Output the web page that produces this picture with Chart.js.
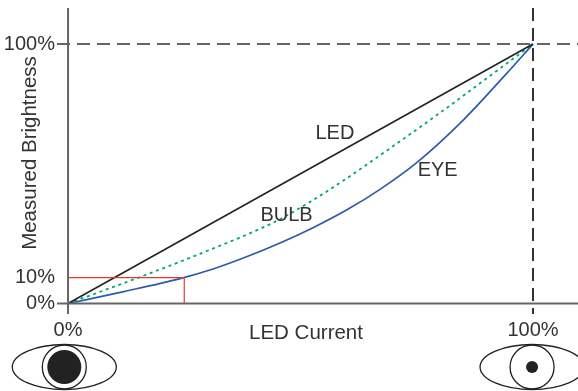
<!DOCTYPE html>
<html>
<head>
<meta charset="utf-8">
<title>LED dimming curves</title>
<script src="https://cdn.jsdelivr.net/npm/chart.js@4"></script>
<style>
    html, body { margin: 0; padding: 0; background: #fff; overflow: hidden; }
    canvas { display: block; }
</style>
</head>
<body>
<canvas id="dimmingChart" width="578" height="391"></canvas>
<script>
// Curves (percent of current, percent of brightness)
const ledX = [0, 100];
const ledY = [0, 100];
const bulbX = [0, 15.5, 24.1, 31.2, 38.4, 45.6, 52.8, 59.9, 68.2, 80, 90.8, 100];
const bulbY = [0, 10.2, 16.1, 21.2, 26.5, 32.5, 40, 48.2, 58.5, 73.5, 87.8, 100];
const eyeX = [0, 12, 24.1, 31.2, 38.4, 45.6, 52.8, 59.9, 67.1, 75, 85, 94, 100];
const eyeY = [0, 4.6, 9.6, 13.3, 18, 23.3, 29.3, 36, 44, 54.3, 70.7, 88, 100];
const markerX = [0, 25, 25];
const markerY = [10, 10, 0];

const xTicks = [0, 100];
const yTicks = [0, 10, 100];
const curveNames = ['LED', 'EYE', 'BULB'];
const curveNameX = [57.4, 79.5, 47];
const curveNameY = [65.7, 51.4, 34.1];
const eyeCentres = [-0.8, 99.8];

const FONT = '"Liberation Sans", Arial, sans-serif';
const TEXT = '#333333';

// Axis ends sit a little outside the 0-100 range
const xMin = -2.37, xMax = 109.68, yMin = -4.05, yMax = 113.9;

function points(xs, ys) {
    return xs.map((x, i) => ({ x: x, y: ys[i] }));
}

// Curve names, axis titles and the two eyes under the x axis
const annotations = {
    id: 'annotations',
    afterDatasetsDraw(chart) {
        const { ctx, scales } = chart;
        ctx.save();
        ctx.fillStyle = TEXT;
        ctx.textAlign = 'center';
        ctx.textBaseline = 'middle';
        ctx.font = '20px ' + FONT;
        curveNames.forEach((name, i) => {
            ctx.fillText(name, scales.x.getPixelForValue(curveNameX[i]), scales.y.getPixelForValue(curveNameY[i]));
        });

        ctx.font = '20.5px ' + FONT;
        ctx.fillText('LED Current', 306, 333);
        ctx.save();
        ctx.translate(30, 153);
        ctx.rotate(-Math.PI / 2);
        ctx.fillText('Measured Brightness', 0, 0);
        ctx.restore();

        eyeCentres.forEach((value, i) => {
            const cx = scales.x.getPixelForValue(value);
            const cy = 367;
            ctx.strokeStyle = '#222222';
            ctx.lineWidth = 1.3;
            ctx.beginPath();
            ctx.ellipse(cx, cy, 52, 22.5, 0, 0, Math.PI * 2);
            ctx.stroke();
            ctx.beginPath();
            ctx.arc(cx, cy, 22, 0, Math.PI * 2);
            ctx.stroke();
            ctx.fillStyle = '#222222';
            ctx.beginPath();
            ctx.arc(cx, cy, i === 0 ? 17 : 6, 0, Math.PI * 2);
            ctx.fill();
        });
        ctx.restore();
    }
};

new Chart(document.getElementById('dimmingChart'), {
    type: 'scatter',
    plugins: [annotations],
    data: {
        datasets: [
            { label: 'Y axis', data: points([0, 0], [yMin, yMax]), borderColor: '#666666', borderWidth: 2 },
            { label: 'X axis', data: points([xMin, xMax], [0, 0]), borderColor: '#666666', borderWidth: 2 },
            { label: '100% level', data: points([xMin, xMax], [100, 100]), borderColor: '#666666', borderWidth: 2, borderDash: [13, 7] },
            { label: '100% current', data: points([100, 100], [yMax, yMin]), borderColor: '#333333', borderWidth: 2, borderDash: [13, 7] },
            { label: '10% marker', data: points(markerX, markerY), borderColor: '#e8392f', borderWidth: 1.2 },
            { label: 'LED', data: points(ledX, ledY), borderColor: '#222222', borderWidth: 1.6 },
            { label: 'BULB', data: points(bulbX, bulbY), borderColor: '#00a878', borderWidth: 1.8, borderDash: [3, 3.7], cubicInterpolationMode: 'monotone' },
            { label: 'EYE', data: points(eyeX, eyeY), borderColor: '#2a5caa', borderWidth: 1.7, cubicInterpolationMode: 'monotone' }
        ]
    },
    options: {
        responsive: false,
        animation: false,
        showLine: true,
        layout: { padding: { top: 8, right: 0, left: 0, bottom: 0 } },
        elements: { point: { radius: 0 } },
        plugins: { legend: { display: false }, tooltip: { enabled: false } },
        scales: {
            x: {
                type: 'linear',
                min: xMin,
                max: xMax,
                grid: { display: false, drawTicks: false },
                border: { display: false },
                afterBuildTicks(scale) { scale.ticks = xTicks.map(v => ({ value: v })); },
                afterFit(scale) {
                    scale.height = 77;
                    scale.paddingLeft = 0;
                    scale.paddingRight = 0;
                },
                ticks: {
                    maxRotation: 0,
                    autoSkip: false,
                    padding: 4,
                    color: TEXT,
                    font: { family: FONT, size: 20 },
                    callback: v => v + '%'
                }
            },
            y: {
                type: 'linear',
                min: yMin,
                max: yMax,
                grid: { display: false, drawTicks: false },
                border: { display: false },
                afterBuildTicks(scale) { scale.ticks = yTicks.map(v => ({ value: v })); },
                afterFit(scale) {
                    scale.width = 57;
                    scale.paddingTop = 0;
                    scale.paddingBottom = 0;
                },
                ticks: {
                    autoSkip: false,
                    padding: 2,
                    color: TEXT,
                    font: { family: FONT, size: 20 },
                    callback: v => v + '%'
                }
            }
        }
    }
});
</script>
</body>
</html>
